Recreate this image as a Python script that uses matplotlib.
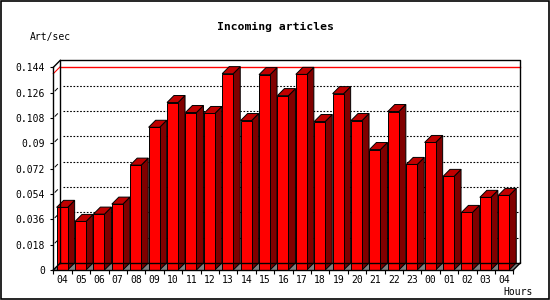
import matplotlib
matplotlib.use('Agg')
import matplotlib.pyplot as plt
from matplotlib.patches import Polygon, Rectangle

# Hourly rate of incoming articles
hours = ['04', '05', '06', '07', '08', '09', '10', '11', '12', '13', '14', '15', '16',
         '17', '18', '19', '20', '21', '22', '23', '00', '01', '02', '03', '04']
rate = [0.0445, 0.0345, 0.0397, 0.0468, 0.0745, 0.1014, 0.1190, 0.1119, 0.1112, 0.1395,
        0.1062, 0.1388, 0.1239, 0.1390, 0.1055, 0.1253, 0.1062, 0.0856, 0.1126, 0.0750,
        0.0906, 0.0665, 0.0409, 0.0516, 0.0530]
yticks = [0, 0.018, 0.036, 0.054, 0.072, 0.09, 0.108, 0.126, 0.144]
ylabels = ['0', '0.018', '0.036', '0.054', '0.072', '0.09', '0.108', '0.126', '0.144']

n = len(hours)
ytop = yticks[-1]
dx, dy = 0.38, 0.005      # 3D depth offset in data units
bar_off, bar_w = 0.18, 0.6

plt.rcParams['font.family'] = 'DejaVu Sans Mono'

fig = plt.figure(figsize=(5.5, 3.0), dpi=100)
ax = fig.add_axes([53.3 / 550, 30 / 300, 467 / 550, 209.7 / 300])
ax.set_xlim(0, n + dx)
ax.set_ylim(0, ytop + dy)
for s in ax.spines.values():
    s.set_visible(False)

# floor
ax.add_patch(Polygon([(0, 0), (n, 0), (n + dx, dy), (dx, dy)], closed=True,
                     facecolor='#808080', edgecolor='none', zorder=1))

# back wall gridlines
for v in yticks[1:-1]:
    ax.plot([dx + 0.15, n + dx], [v + dy, v + dy], color='black', lw=0.8,
            linestyle=(0, (1.5, 1.5)), zorder=2, clip_on=False)
    ax.plot([dx * 0.25, dx * 0.6], [v + dy * 0.25, v + dy * 0.6], color='black',
            lw=0.7, zorder=2, clip_on=False)

# max line
vmax = max(rate)
ax.plot([dx, n + dx], [vmax + dy, vmax + dy], color='red', lw=1, zorder=2, clip_on=False)
ax.plot([0, dx], [vmax, vmax + dy], color='red', lw=0.8, zorder=2, clip_on=False)

# frame lines
k = dict(color='black', lw=1, zorder=5, clip_on=False)
ax.plot([dx, dx, n + dx, n + dx, dx], [dy, ytop + dy, ytop + dy, dy, dy], **k)
ax.plot([0, 0], [0, ytop], **k)
ax.plot([0, dx], [ytop, ytop + dy], **k)
ax.plot([0, dx], [0, dy], **k)
ax.plot([0, n], [0, 0], **k)
ax.plot([n, n + dx], [0, dy], **k)

# bars
for i, v in enumerate(rate):
    x0 = i + bar_off
    x1 = x0 + bar_w
    ax.add_patch(Polygon([(x1, 0), (x1 + dx, dy), (x1 + dx, v + dy), (x1, v)], closed=True,
                         facecolor='#800000', edgecolor='black', lw=0.7, zorder=3))
    ax.add_patch(Polygon([(x0, v), (x1, v), (x1 + dx, v + dy), (x0 + dx, v + dy)], closed=True,
                         facecolor='#C00000', edgecolor='black', lw=0.7, zorder=3))
ax.bar([i + bar_off for i in range(n)], rate, width=bar_w, align='edge',
       color='#FF0000', edgecolor='black', linewidth=0.7, zorder=4)

# ticks
ax.set_yticks(yticks, ylabels)
ax.set_xticks([i + 0.5 for i in range(n)], hours)
ax.set_xticks(range(n + 1), minor=True)
ax.tick_params(axis='y', length=2, width=0.8, pad=4, labelsize=7)
ax.tick_params(axis='x', which='major', length=0, pad=3.5, labelsize=7)
ax.tick_params(axis='x', which='minor', length=3, width=0.8)

fig.text(275 / 550, 1 - 27 / 300, 'Incoming articles', ha='center', va='center',
         fontsize=8.2, fontweight='bold')
fig.text(30 / 550, 1 - 37 / 300, 'Art/sec', ha='left', va='center', fontsize=7)
fig.text(533 / 550, 1 - 292 / 300, 'Hours', ha='right', va='center', fontsize=7)

fig.add_artist(Rectangle((0.001, 0.002), 0.997, 0.995, transform=fig.transFigure,
                         fill=False, edgecolor='black', lw=1.2))

fig.savefig('out.png', dpi=100)
